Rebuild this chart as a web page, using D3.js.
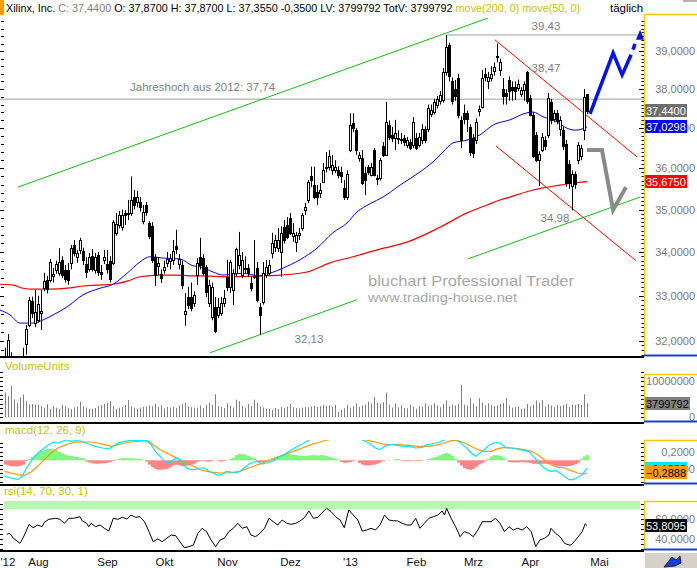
<!DOCTYPE html>
<html>
<head>
<meta charset="utf-8">
<script src="https://cdn.jsdelivr.net/npm/d3@7"></script>
<style>
  body { margin: 0; background: #fff; }
  svg { display: block; font-family: "Liberation Sans", Arial, sans-serif; }
</style>
</head>
<body>
<div id="chart"></div>
<script>
// ---------- daily candles (index 0 = mid July 2012, last = 26 Apr 2013) ----------
var openP = [31.55,31.62,31.6,31.45,31.35,31.4,31.5,31.93,32.35,32.88,
  32.4,32.46,32.62,33.17,33.36,33.36,33.44,33.59,33.52,33.82,
  33.59,33.59,33.75,34.16,33.88,34.05,34.02,33.72,33.61,33.9,
  33.59,33.93,33.55,33.82,33.72,33.8,33.75,34.45,34.63,34.58,
  34.92,34.9,34.92,35.3,35.18,35.18,34.73,35.11,34.68,34.6,
  33.88,33.68,33.5,33.59,33.75,33.79,33.82,34.14,33.72,33.7,
  32.6,32.97,32.97,32.84,33.47,33.88,33.86,33.66,32.84,32.53,
  32.75,32.57,32.62,32.84,33.43,33.2,33.13,33.52,33.7,33.47,
  33.61,33.63,33.29,33.43,33.63,32.75,32.86,33.47,33.52,33.98,
  34.12,34.1,34.0,34.58,34.63,34.8,34.38,34.24,34.4,34.56,
  34.99,35.23,35.8,35.59,35.42,35.4,35.66,36.02,36.04,35.96,
  35.96,35.96,35.9,35.52,35.3,36.45,37.13,36.95,36.26,36.26,
  35.88,36.04,35.84,36.45,35.75,35.76,36.55,36.33,37.08,36.83,
  36.76,36.76,36.7,36.76,36.58,36.65,36.58,36.75,36.58,36.7,
  36.98,36.98,37.36,37.41,37.6,37.7,37.72,38.45,39.15,38.2,
  38.0,38.3,37.2,37.38,37.38,37.03,36.75,36.7,37.43,37.55,
  38.4,38.2,38.3,38.47,38.85,38.5,38.0,37.9,38.24,38.05,
  38.06,38.03,37.88,37.97,38.45,37.78,37.33,36.83,36.21,36.45,
  36.7,36.83,37.67,37.23,37.38,36.97,36.95,36.6,36.1,35.57,
  35.86,36.21,36.3,36.95,37.87];
var highP = [31.85,32.15,31.75,31.6,31.55,31.62,31.85,32.35,32.97,32.98,
  33.13,33.0,33.13,33.52,33.45,33.84,33.63,33.8,34.09,33.9,
  33.7,33.75,34.16,34.28,34.05,34.33,34.1,33.88,33.98,34.07,
  33.98,34.0,33.7,34.05,34.05,33.9,34.75,34.92,34.97,35.0,
  34.99,35.23,35.8,35.47,35.45,35.3,35.11,35.18,34.72,34.7,
  33.95,33.88,33.6,33.8,34.0,33.95,34.28,34.52,33.95,33.8,
  33.06,33.2,33.3,33.1,33.86,34.33,33.95,33.7,33.36,33.3,
  32.97,32.95,32.97,33.13,33.82,33.82,33.6,34.1,34.47,34.0,
  33.9,33.72,33.43,34.28,33.77,32.84,33.77,33.82,33.82,34.45,
  34.4,34.56,34.6,34.75,34.82,34.92,34.68,34.47,34.56,34.92,
  35.16,35.71,36.04,36.04,35.59,35.64,36.13,36.4,36.45,36.33,
  36.2,36.05,36.04,35.71,35.95,37.38,37.38,37.0,36.4,36.45,
  36.04,36.08,36.13,36.5,35.84,36.26,36.65,37.67,37.2,37.03,
  37.21,36.95,36.88,36.83,36.78,36.72,37.28,36.88,36.88,37.1,
  37.05,37.6,37.6,37.75,37.82,37.95,38.55,39.43,39.22,38.3,
  38.24,38.4,37.3,37.6,37.45,37.1,36.85,37.25,37.58,38.5,
  38.55,38.45,38.6,38.7,39.2,38.8,38.29,38.0,38.33,38.2,
  38.2,38.25,38.05,38.2,38.47,37.85,37.4,36.9,36.42,36.88,
  36.8,37.9,37.75,37.46,37.46,37.3,37.03,36.7,36.2,35.95,
  35.92,36.65,36.58,38.0,37.87];
var lowP = [31.3,31.4,31.3,31.2,31.15,31.2,31.4,31.7,32.3,32.5,
  32.3,32.4,32.24,33.1,33.05,33.3,33.3,33.5,33.45,33.4,
  33.3,33.25,33.6,33.9,33.75,33.95,33.7,33.4,33.55,33.55,
  33.5,33.45,33.36,33.72,33.5,33.3,33.7,34.38,34.55,34.5,
  34.63,34.75,34.85,35.0,35.05,34.95,34.65,34.85,34.3,33.75,
  33.22,33.47,33.29,33.5,33.65,33.6,33.7,33.95,33.6,33.15,
  32.33,32.7,32.65,32.75,33.24,33.6,33.45,32.97,32.75,32.45,
  32.17,32.5,32.55,32.75,33.1,33.06,32.79,33.45,33.6,33.4,
  33.5,33.42,33.1,33.38,32.85,32.13,32.8,33.4,33.45,33.85,
  34.0,34.0,33.43,34.2,34.3,34.4,34.24,34.0,34.28,34.5,
  34.87,35.15,35.54,35.25,35.11,35.28,35.64,35.9,35.95,35.84,
  35.88,35.75,35.64,35.23,35.23,36.4,36.9,36.33,36.16,35.59,
  35.35,35.84,35.8,35.8,35.59,35.7,36.28,36.3,36.7,36.65,
  36.45,36.6,36.6,36.55,36.5,36.45,36.5,36.45,36.52,36.6,
  36.62,36.9,37.28,37.35,37.5,37.6,37.65,38.35,38.2,37.6,
  37.7,37.25,36.5,37.1,36.9,36.3,36.25,36.6,37.3,37.5,
  38.2,38.0,38.2,38.35,38.7,38.35,37.6,37.6,37.7,37.7,
  37.72,37.95,37.8,37.7,37.62,37.3,36.25,36.15,35.57,36.4,
  36.45,36.75,37.1,37.15,37.1,36.8,36.45,35.55,35.5,34.98,
  35.5,36.1,36.2,36.7,37.355];
var closeP = [31.62,32.02,31.45,31.35,31.4,31.5,31.6,32.26,32.91,32.62,
  32.64,32.82,32.66,33.34,33.15,33.77,33.5,33.72,33.77,33.47,
  33.38,33.36,34.09,33.98,33.98,34.28,33.82,33.55,33.88,33.61,
  33.88,33.55,33.5,33.88,33.6,33.38,34.7,34.65,34.87,34.87,
  34.87,34.92,35.23,35.11,35.3,35.06,34.95,34.95,34.38,33.82,
  33.47,33.75,33.4,33.66,33.84,33.86,34.02,34.07,33.84,33.24,
  32.66,32.79,32.72,33.02,33.75,33.7,33.52,33.08,33.24,33.2,
  32.22,32.75,32.84,32.95,33.2,33.77,33.52,34.07,33.93,33.82,
  33.64,33.52,33.17,33.45,32.91,32.57,33.52,33.66,33.7,34.2,
  34.28,34.28,34.45,34.28,34.36,34.45,34.45,34.4,34.45,34.87,
  35.06,35.66,35.71,35.3,35.3,35.47,35.96,36.04,36.3,36.08,
  36.04,35.84,35.8,35.3,35.86,37.08,37.0,36.45,36.33,35.64,
  35.71,35.91,36.04,35.84,35.77,36.21,36.33,37.15,36.78,36.76,
  36.88,36.72,36.72,36.65,36.7,36.5,37.15,36.5,36.78,36.98,
  36.7,37.51,37.46,37.67,37.75,37.85,38.45,39.1,38.33,37.7,
  37.82,37.33,36.7,37.23,37.23,36.4,36.38,37.15,37.48,38.3,
  38.32,38.32,38.4,38.57,38.88,38.7,37.82,37.82,37.95,37.98,
  37.95,38.12,37.98,38.12,37.68,37.33,36.3,36.21,36.35,36.78,
  36.55,37.77,37.21,37.38,37.18,37.21,36.55,35.64,35.64,35.86,
  35.62,36.58,36.5,37.79,37.44];

// volume in millions of shares
var volumeM = [6.8,5.8,8.7,4.9,3.9,5.4,6.3,4.4,3.5,3.6,
  3.5,3.4,3.0,2.6,3.5,2.2,3.0,2.6,2.3,3.4,
  3.0,2.5,2.2,2.7,2.9,4.2,3.0,2.6,2.2,2.3,
  2.5,3.0,3.3,3.6,4.0,4.4,3.0,2.2,2.6,2.8,
  3.4,4.7,2.9,2.6,2.3,2.6,2.8,2.9,3.2,3.0,
  3.6,2.8,3.3,2.4,2.8,2.6,2.8,2.5,3.2,3.6,
  4.0,2.9,2.7,2.6,2.6,3.2,2.5,3.4,4.0,3.4,
  6.3,3.0,2.8,2.5,3.8,3.2,2.6,4.8,4.4,3.0,
  2.6,3.6,3.0,4.8,4.0,2.9,2.6,2.4,2.2,2.0,
  2.5,2.2,2.8,2.5,2.9,3.6,2.7,2.5,2.4,2.6,
  2.8,2.7,2.9,3.1,2.8,3.0,3.4,3.1,3.2,2.8,
  3.4,1.4,2.0,2.4,3.3,2.6,3.0,3.8,2.8,3.2,
  3.4,4.3,3.8,5.6,3.9,3.6,4.1,6.8,3.5,2.6,
  3.8,2.7,3.2,2.5,2.4,3.4,2.9,2.3,3.0,2.9,
  3.8,3.1,3.3,3.8,3.2,2.7,3.6,4.6,3.0,3.4,
  3.2,3.6,8.9,3.4,3.2,5.2,3.8,3.0,5.2,4.0,
  3.2,3.8,3.3,3.0,3.2,3.6,3.9,5.2,3.3,2.6,
  2.8,2.9,2.2,2.4,3.6,3.0,3.4,4.6,4.0,4.7,
  2.9,3.6,3.2,2.7,3.3,3.0,3.3,3.6,2.8,3.4,
  3.3,3.6,3.4,6.3,3.799792];

// moving averages at candle indices
var ma50Idx = [-1.7,1.7,5,9.3,12.7,16,20.7,26,31.7,36,40.7,45,48.3,52.7,58.3,62.7,65,69.3,72.7,79.3,85,88.3,92.7,98.3,104,109.3,114,117.3,121.7,126,131.7,138.3,142.7,146,149.3,154,158.3,162.7,168.3,174,176,179.3,184,187.3,190,192,194];
var ma50Val = [32.68,32.57,32.39,32.39,32.46,32.57,32.75,33.02,33.17,33.26,33.51,33.77,33.89,33.86,33.84,33.68,33.66,33.54,33.47,33.51,33.45,33.51,33.63,33.82,34.09,34.45,34.68,34.94,35.14,35.30,35.59,35.91,36.16,36.40,36.63,36.70,36.83,37.08,37.21,37.39,37.41,37.29,37.16,37.0,36.95,36.97,37.03];
var ma200Idx = [-1.7,2.7,6,9.3,15,20.7,26,30.7,36,40.7,45,51.7,57.3,61.7,65,75,85,91.7,100.7,108.3,116,124,134,145,154,160.7,165,168.3,176,179.3,185,189.3,194];
var ma200Val = [33.26,33.24,33.17,33.15,33.15,33.17,33.22,33.24,33.26,33.33,33.43,33.47,33.47,33.45,33.45,33.43,33.45,33.47,33.54,33.75,33.89,34.05,34.23,34.58,34.92,35.11,35.23,35.30,35.47,35.52,35.59,35.64,35.675];

// macd(12,26,9): macd line (cyan), signal (orange), histogram per candle
var macdIdx = [-0.2,2,4.3,5.7,7.2,9.4,11.7,13.1,14.6,16.1,17.6,19.1,20.6,22,23.5,25.7,27.9,30.2,32.4,34.6,36.1,37.6,39.8,42,44.3,45.7,47.2,48.7,50.2,51.7,53.1,54.6,56.1,57.6,59.1,60.6,62,63.5,65,66.5,68,69.4,70.9,72.4,73.9,75.4,76.9,78.3,79.8,81.3,82.8,84.3,85.7,87.2,88.7,90.2,91.7,93.1,94.6,96.1,97.6,99.1,100.6,102,105,109,113,115.4,119,120.6,122,123.5,125,126.5,128,129.4,130.9,132.4,134.6,136.9,139.1,140.6,142,143.5,145,146.5,148.7,150.9,152.4,153.9,155.4,156.9,158.3,159.8,161.3,162.8,164.3,165.7,167.2,168.7,170.2,171.7,173.1,174.6,176.1,177.6,179.1,180.5,182,183.5,185,186.5,188,189.4,190.9,192.4,194];
var macdVal = [-0.373,-0.412,-0.45,-0.373,-0.179,0.053,0.209,0.286,0.364,0.426,0.402,0.441,0.48,0.441,0.457,0.441,0.379,0.325,0.286,0.27,0.325,0.402,0.441,0.465,0.457,0.465,0.457,0.364,0.209,0.092,-0.024,-0.063,0.015,0.053,-0.063,-0.179,-0.218,-0.218,-0.179,-0.179,-0.257,-0.295,-0.35,-0.319,-0.257,-0.272,-0.295,-0.257,-0.179,-0.086,-0.04,-0.024,-0.086,-0.063,-0.024,0.015,0.092,0.131,0.209,0.27,0.325,0.379,0.441,0.5,0.6,0.56,0.49,0.56,0.48,0.426,0.364,0.286,0.247,0.325,0.364,0.364,0.348,0.325,0.325,0.286,0.302,0.364,0.379,0.402,0.426,0.48,0.56,0.457,0.364,0.286,0.17,0.092,0.17,0.247,0.348,0.402,0.418,0.364,0.286,0.286,0.27,0.247,0.224,0.209,0.092,-0.024,-0.14,-0.218,-0.257,-0.241,-0.295,-0.373,-0.45,-0.45,-0.396,-0.334,-0.1888];
var signalIdx = [-0.2,2,4.3,6.5,8.7,10.9,13.1,15.4,17.6,19.8,22,24.3,26.5,28.7,30.9,33.1,35.4,37.6,39.8,42,44.3,46.5,48,49.4,51.7,53.9,56.1,58.3,60.6,62.8,65,67.2,69.4,71.7,73.9,76.1,78.3,81.3,84.3,87.2,90.2,93.1,96.1,99.1,102,105,107.9,112.4,116.9,121.3,123.5,125.7,128.7,131.7,134.6,137.6,140.6,143.5,146.5,148.7,150.9,153.1,155.4,157.6,159.8,162,164.3,166.5,168.7,170.9,173.1,175.4,177.6,179.8,182,184.3,186.5,188.7,190.9,193.1,194];
var signalVal = [-0.257,-0.295,-0.334,-0.35,-0.272,-0.14,0.015,0.17,0.286,0.348,0.402,0.426,0.426,0.426,0.402,0.364,0.325,0.364,0.402,0.426,0.441,0.457,0.441,0.364,0.247,0.17,0.092,0.015,-0.063,-0.14,-0.218,-0.257,-0.28,-0.295,-0.295,-0.28,-0.257,-0.179,-0.102,-0.024,0.053,0.131,0.209,0.286,0.364,0.426,0.48,0.53,0.53,0.457,0.426,0.379,0.364,0.364,0.348,0.325,0.325,0.348,0.402,0.457,0.457,0.402,0.325,0.247,0.209,0.209,0.27,0.302,0.286,0.27,0.247,0.209,0.131,0.015,-0.102,-0.163,-0.179,-0.241,-0.295,-0.319,-0.2888];
var histVal = [-0.10,-0.12,-0.14,-0.14,-0.14,-0.13,-0.10,-0.02,0.03,
  0.08,0.13,0.18,0.22,0.24,0.26,0.27,0.26,0.24,0.2,0.16,0.13,0.11,0.1,0.09,0.08,0.06,0.05,
  -0.03,-0.05,-0.07,-0.08,-0.08,-0.07,-0.07,-0.06,-0.04,-0.02,
  0.02,0.04,0.05,0.05,0.05,0.05,0.04,0.04,0.03,0.01,
  -0.03,-0.1,-0.16,-0.2,-0.22,-0.22,-0.21,-0.2,-0.16,-0.12,-0.1,-0.12,
  -0.14,-0.13,-0.12,-0.1,-0.08,-0.04,-0.02,
  -0.02,-0.03,-0.03,-0.02,0.0,-0.02,-0.03,-0.02,0.01,0.03,0.06,
  0.12,0.15,0.15,0.13,0.1,0.07,0.06,
  -0.02,-0.04,-0.04,-0.02,
  0.02,0.05,0.08,0.1,0.12,0.14,0.15,0.14,0.13,0.12,0.11,0.1,0.1,0.11,0.12,0.12,0.11,0.12,0.12,0.1,0.08,0.06,0.04,0.02,
  -0.04,-0.06,-0.05,-0.04,-0.02,0.0,
  -0.06,-0.1,-0.12,-0.12,-0.11,-0.1,-0.08,-0.05,-0.02,
  0.0,0.01,0.0,0.03,0.03,
  -0.01,-0.02,-0.02,-0.02,-0.01,-0.02,-0.02,-0.01,0.0,
  0.03,0.05,0.07,0.09,0.12,0.15,0.17,0.15,0.1,0.04,
  -0.05,-0.12,-0.18,-0.21,-0.22,-0.2,-0.15,-0.1,-0.06,-0.02,
  0.04,0.09,0.12,0.12,0.1,0.06,0.02,
  -0.04,-0.05,-0.05,-0.05,-0.04,-0.05,-0.05,-0.06,-0.08,
  -0.08,-0.09,-0.08,-0.08,-0.09,-0.1,
  -0.12,-0.13,-0.14,-0.14,-0.14,-0.13,-0.12,-0.09,-0.05,
  0.04,0.09,0.12];

// rsi(14)
var rsiIdx = [0.6,1.6,2.8,5,6.5,8,9.4,10.9,12.4,13.1,14.6,16.9,18.3,19.8,21.3,22.8,25,25.7,27.2,27.9,28.7,30.2,31.7,33.1,34.6,36.1,37.6,39.1,40.6,42,43.5,45,46.5,48,49.4,50.9,52.4,53.9,55.4,56.9,58.3,59.8,61.3,62.8,64.3,65.7,67.2,68.7,70.2,71.7,73.1,74.6,76.1,77.6,79.1,80.6,82,83.5,85,86.5,88,89.4,90.9,92.4,93.9,95.4,96.9,98.3,99.8,101.3,102.8,104.3,105.7,107.2,108.7,110.2,111.7,113.1,114.6,116.1,117.6,119.1,120.6,122,123.5,125,126.5,128,129.4,130.9,132.4,133.9,135.4,136.9,138.3,139.8,141.3,142.8,144.3,145.7,146.5,147.2,148.7,150.2,151.7,153.1,154.6,156.1,157.6,159.1,160.6,162,163.5,165,166.5,168,169.4,170.9,172.4,173.9,175.4,176.9,178.3,179.8,181.3,182,183.5,185,186.5,188,188.7,190.2,191.7,192.4,193.4,194];
var rsiVal = [45,46,41,36,44.3,55,51.6,54.3,52.6,57,60,61,60,56,61,61,62.6,58.6,56,52.6,56,52.6,54.3,51,48.3,61,60,62,60.3,64.3,62,62.6,57.6,47.6,37.6,40.3,37.6,41,44.3,43.6,37.6,31.6,32.6,34.3,46,51,47.6,39.3,32.6,39.3,41,47.6,51,56,51,52.6,44.3,42.6,46,51,61,57.6,54.3,59.3,56,55,56,58.3,61.6,68.3,61,62,66.6,71,67.6,62.6,59.3,51.6,69.3,64.3,59.3,48.3,49.3,51,49.3,54.3,64.3,59.3,58.6,58.3,56,54.3,54.3,61,51,56,61,62.6,64.3,68.3,64.3,71,61,52.6,42.6,47.6,46,42.6,49.3,57.6,57.6,57.6,61,56,47.6,52.6,49.3,51,49.3,52.6,47.6,32.6,39.3,41,44.3,51,46,42.6,36,34.3,34.3,39.3,45,47.6,55.6,53.81];

// axis labels
var monthIdx = [0.8, 11, 34, 53, 74, 95, 115, 137, 156, 175, 198];
var monthLabels = ["'12", "Aug", "Sep", "Okt", "Nov", "Dez", "'13", "Feb", "Mrz", "Apr", "Mai"];
var priceTicks = [32, 33, 34, 35, 36, 37, 38, 39];

// drawn analysis: trend channels, marks and projections ([candle index, price])
var greenUpper = [[4.3, 35.54], [161, 39.89]];
var greenLower1 = [[68.3, 31.74], [117.3, 32.91]];
var greenLower2 = [[154.3, 33.84], [211.7, 35.30]];
var redUpper = [[163.3, 39.30], [210.7, 36.28]];
var redLower = [[163.7, 36.55], [210.3, 33.80]];
var highLine = [[147.2, 39.43], [213, 39.43]];
var yearHighLine = [[-1.7, 37.74], [213, 37.74]];
var bullPath = [[195, 37.36], [202.7, 38.95], [205.7, 38.37], [208.7, 38.90]];
var bullDash = [[209.3, 39.04], [210.0, 39.19]];
var bullHead = [[210.3, 39.30], [211.7, 39.57], [213.0, 39.30]];
var bearPath = [[194, 36.45], [199, 36.45], [202.7, 34.99], [207, 35.54]];

// ---------- layout ----------
var width = 697, height = 568;
var axisX = 644;
var olive = "#c4c400", yellow = "#f6c700", axisBlue = "#1c3fc8";
var de = d3.formatLocale({decimal: ",", thousands: ".", grouping: [3], currency: ["", ""]});
var fmt4 = de.format(".4f");

var svg = d3.select("#chart").append("svg").attr("width", width).attr("height", height);
svg.append("rect").attr("width", width).attr("height", height).attr("fill", "#fff");

var xScale = d3.scaleLinear().domain([0, 194]).range([5, 587]);
var yPrice = d3.scaleLog().domain([31.67, 39.89]).range([356, 18]);
var yVol = d3.scaleLinear().domain([0, 1e7]).range([417, 381]);
var yMacd = d3.scaleLinear().domain([-0.2, 0.2]).range([468.9, 451.7]);
var yRsi = d3.scaleLinear().domain([40, 60]).range([539.3, 519.3]);

function px(i) { return Math.round(xScale(i)); }

var defs = svg.append("defs");
function addClip(id, y0, y1) {
  defs.append("clipPath").attr("id", id).append("rect")
    .attr("x", 0).attr("y", y0).attr("width", axisX).attr("height", y1 - y0);
}
addClip("cMain", 18, 356);
addClip("cVol", 374, 421);
addClip("cMacd", 440, 484);
addClip("cRsi", 501, 550);

// ---------- main price panel ----------
var gMain = svg.append("g").attr("clip-path", "url(#cMain)");

var candles = openP.map(function (o, i) {
  return {i: i, o: o, h: highP[i], l: lowP[i], c: closeP[i]};
});

var ptLine = d3.line()
  .x(function (d) { return xScale(d[0]); })
  .y(function (d) { return yPrice(d[1]); });

function drawPts(g, pts, color, w, dash) {
  g.append("path").datum(pts).attr("d", ptLine)
    .attr("fill", "none").attr("stroke", color).attr("stroke-width", w)
    .attr("stroke-dasharray", dash || null);
}

// horizontal marks
drawPts(gMain, yearHighLine, "#a0a0a0", 1);
drawPts(gMain, highLine, "#a0a0a0", 1);

// watermark
gMain.append("text").attr("x", 368).attr("y", 286).attr("font-size", 15)
  .attr("fill", "#a8a8a8").attr("textLength", 206).attr("lengthAdjust", "spacingAndGlyphs")
  .text("bluchart Professional Trader");
gMain.append("text").attr("x", 368).attr("y", 302).attr("font-size", 12.5)
  .attr("fill", "#a8a8a8").attr("textLength", 149).attr("lengthAdjust", "spacingAndGlyphs")
  .text("www.trading-house.net");

// channels
drawPts(gMain, greenUpper, "#10c010", 1);
drawPts(gMain, greenLower1, "#10c010", 1);
drawPts(gMain, greenLower2, "#10c010", 1);
drawPts(gMain, redUpper, "#ff0000", 1);
drawPts(gMain, redLower, "#ff0000", 1);

// moving averages
var maLine = d3.line().curve(d3.curveMonotoneX)
  .x(function (d) { return xScale(d[0]); })
  .y(function (d) { return yPrice(d[1]); });
gMain.append("path").datum(d3.zip(ma200Idx, ma200Val)).attr("d", maLine)
  .attr("fill", "none").attr("stroke", "#ff0000").attr("stroke-width", 1.2);
gMain.append("path").datum(d3.zip(ma50Idx, ma50Val)).attr("d", maLine)
  .attr("fill", "none").attr("stroke", "#0000ff").attr("stroke-width", 1);

// candles
gMain.selectAll("line.wick").data(candles).enter().append("line")
  .attr("class", "wick")
  .attr("x1", function (d) { return px(d.i) + 0.5; })
  .attr("x2", function (d) { return px(d.i) + 0.5; })
  .attr("y1", function (d) { return yPrice(d.h); })
  .attr("y2", function (d) { return yPrice(d.l); })
  .attr("stroke", "#000").attr("stroke-width", 1);

gMain.selectAll("rect.body").data(candles).enter().append("rect")
  .attr("class", "body")
  .attr("x", function (d) { return px(d.i) - 0.5; })
  .attr("width", 2)
  .attr("y", function (d) { return Math.round(yPrice(Math.max(d.o, d.c))) + 0.5; })
  .attr("height", function (d) {
    return Math.max(1, Math.round(yPrice(Math.min(d.o, d.c))) - Math.round(yPrice(Math.max(d.o, d.c))));
  })
  .attr("fill", function (d) { return d.c < d.o ? "#000" : "#fff"; })
  .attr("stroke", "#000").attr("stroke-width", 1);

// projections
drawPts(gMain, bearPath, "#8a8a8a", 4);
drawPts(gMain, bullPath, "#0010ff", 3.5);
drawPts(gMain, bullDash, "#0010ff", 3.5);
gMain.append("path").datum(bullHead).attr("d", function (d) { return ptLine(d) + "Z"; })
  .attr("fill", "#0010ff");

// value labels on the chart
var annot = svg.append("g").attr("font-size", 11.5).attr("fill", "#808080");
annot.append("text").attr("x", 130).attr("y", 90.5).text("Jahreshoch aus 2012: 37,74");
annot.append("text").attr("x", 546).attr("y", 30).attr("text-anchor", "middle").text("39,43");
annot.append("text").attr("x", 546).attr("y", 71.5).attr("text-anchor", "middle").text("38,47");
annot.append("text").attr("x", 555).attr("y", 221.5).attr("text-anchor", "middle").text("34,98");
annot.append("text").attr("x", 309).attr("y", 343).attr("text-anchor", "middle").text("32,13");

// ---------- header ----------
var head = svg.append("text").attr("x", 6).attr("y", 11.5).attr("font-size", 11)
  .attr("fill", "#000").attr("textLength", 574).attr("lengthAdjust", "spacingAndGlyphs");
head.append("tspan").text("Xilinx, Inc. ");
head.append("tspan").attr("fill", "#808080").text("C: 37,4400 ");
head.append("tspan").text("O: 37,8700 H: 37,8700 L: 37,3550 -0,3500 LV: 3799792 TotV: 3799792 ");
head.append("tspan").attr("fill", olive).text("move(200, 0) move(50, 0)");
svg.append("text").attr("x", 610).attr("y", 11.5).attr("font-size", 11.5).text("täglich");
svg.append("rect").attr("x", 0).attr("y", 0).attr("width", 4).attr("height", 15).attr("fill", "#ff9a00");
svg.append("rect").attr("x", 683).attr("y", 0).attr("width", 14).attr("height", 2).attr("fill", "#b8b4ac");

// ---------- price axis ----------
function tickColumn(scale, values, major, x0, len, lenMajor) {
  svg.append("g").selectAll("line").data(values).enter().append("line")
    .attr("x1", function (d) { return major(d) ? x0 - lenMajor : x0 - len; })
    .attr("x2", x0)
    .attr("y1", function (d) { return Math.round(scale(d)) + 0.5; })
    .attr("y2", function (d) { return Math.round(scale(d)) + 0.5; })
    .attr("stroke", "#000").attr("stroke-width", 1);
}
function isInt(d) { return Math.abs(d - Math.round(d)) < 1e-6; }

tickColumn(yPrice, d3.range(31.8, 39.85, 0.2), isInt, 4, 3, 5);
tickColumn(yPrice, d3.range(31.7, 39.85, 0.1), isInt, axisX, 2.5, 5);

svg.append("g").attr("font-size", 11).attr("fill", "#7a7a7a").attr("text-anchor", "end")
  .selectAll("text").data(priceTicks).enter().append("text")
  .attr("x", 695).attr("y", function (d) { return yPrice(d); }).attr("dy", "0.36em")
  .text(function (d) { return fmt4(d); });

function valueBox(y, txt, fill, color, w) {
  svg.append("rect").attr("x", 645).attr("y", Math.round(y - 6.5)).attr("width", w || 42).attr("height", 13).attr("fill", fill);
  svg.append("text").attr("x", 646).attr("y", Math.round(y - 6.5) + 10.5).attr("font-size", 11).attr("fill", color).text(txt);
}
valueBox(yPrice(closeP[closeP.length - 1]), fmt4(closeP[closeP.length - 1]), "#6e6e6e", "#fff");
valueBox(yPrice(37.0298), fmt4(37.0298), "#0000ff", "#fff");
valueBox(yPrice(ma200Val[ma200Val.length - 1]), fmt4(ma200Val[ma200Val.length - 1]), "#ff0000", "#fff");

// ---------- volume panel ----------
var gVol = svg.append("g").attr("clip-path", "url(#cVol)");
gVol.selectAll("line").data(volumeM).enter().append("line")
  .attr("x1", function (d, i) { return px(i) + 0.5; })
  .attr("x2", function (d, i) { return px(i) + 0.5; })
  .attr("y1", yVol(0))
  .attr("y2", function (d) { return yVol(d * 1e6); })
  .attr("stroke", "#808080").attr("stroke-width", 1);
svg.append("text").attr("x", 5).attr("y", 370).attr("font-size", 11.5).attr("fill", olive).text("VolumeUnits");
var volTicks = d3.range(0, 1.3e7, 1.25e6);
tickColumn(yVol, volTicks, function () { return false; }, 3, 3, 3);
tickColumn(yVol, volTicks, function () { return false; }, axisX, 3, 3);
svg.append("g").attr("font-size", 11).attr("fill", "#7a7a7a").attr("text-anchor", "end")
  .selectAll("text").data([0, 1e7]).enter().append("text")
  .attr("x", 695).attr("y", function (d) { return yVol(d); }).attr("dy", "0.36em")
  .text(function (d) { return d3.format("d")(d); });
valueBox(yVol(volumeM[volumeM.length - 1] * 1e6), "3799792", "#808080", "#000", 45);

// ---------- macd panel ----------
var gMacd = svg.append("g").attr("clip-path", "url(#cMacd)");
gMacd.selectAll("rect").data(histVal).enter().append("rect")
  .attr("x", function (d, i) { return px(i) - 1; })
  .attr("width", 3)
  .attr("y", function (d) { return Math.min(yMacd(0), yMacd(d)); })
  .attr("height", function (d) { return Math.abs(yMacd(d) - yMacd(0)); })
  .attr("fill", function (d) { return d >= 0 ? "#80f880" : "#ff8484"; });
var mLine = d3.line()
  .x(function (d) { return xScale(d[0]); })
  .y(function (d) { return yMacd(d[1]); });
gMacd.append("path").datum(d3.zip(signalIdx, signalVal)).attr("d", mLine)
  .attr("fill", "none").attr("stroke", "#ff9900").attr("stroke-width", 1.2);
gMacd.append("path").datum(d3.zip(macdIdx, macdVal)).attr("d", mLine)
  .attr("fill", "none").attr("stroke", "#00e8ff").attr("stroke-width", 1.2);
svg.append("text").attr("x", 5).attr("y", 434).attr("font-size", 11.5).attr("fill", olive).text("macd(12, 26, 9)");
var macdTicks = d3.range(-0.5, 0.55, 0.1).filter(function (d) { return yMacd(d) > 440 && yMacd(d) < 484; });
tickColumn(yMacd, macdTicks, function () { return false; }, 3, 3, 3);
tickColumn(yMacd, macdTicks, function () { return false; }, axisX, 3, 3);
svg.append("g").attr("font-size", 11).attr("fill", "#7a7a7a").attr("text-anchor", "end")
  .selectAll("text").data([0.2, -0.2]).enter().append("text")
  .attr("x", 695).attr("y", function (d) { return yMacd(d); }).attr("dy", "0.36em")
  .text(function (d) { return fmt4(d); });
valueBox(yMacd(macdVal[macdVal.length - 1]), fmt4(macdVal[macdVal.length - 1]), "#00e8ff", "#000");
valueBox(yMacd(signalVal[signalVal.length - 1]), fmt4(signalVal[signalVal.length - 1]), "#ff9900", "#000");

// ---------- rsi panel ----------
var gRsi = svg.append("g").attr("clip-path", "url(#cRsi)");
gRsi.append("rect").attr("x", 4).attr("width", 636)
  .attr("y", yRsi(100)).attr("height", yRsi(70) - yRsi(100)).attr("fill", "#b4f8b4");
var rLine = d3.line()
  .x(function (d) { return xScale(d[0]); })
  .y(function (d) { return yRsi(d[1]); });
gRsi.append("path").datum(d3.zip(rsiIdx, rsiVal)).attr("d", rLine)
  .attr("fill", "none").attr("stroke", "#000").attr("stroke-width", 1);
svg.append("text").attr("x", 4).attr("y", 495).attr("font-size", 11.5).attr("fill", olive).text("rsi(14, 70, 30, 1)");
var rsiTicks = d3.range(30, 80, 5);
tickColumn(yRsi, rsiTicks, function () { return false; }, 3, 3, 3);
tickColumn(yRsi, rsiTicks, function () { return false; }, axisX, 3, 3);
svg.append("g").attr("font-size", 11).attr("fill", "#7a7a7a").attr("text-anchor", "end")
  .selectAll("text").data([60, 40]).enter().append("text")
  .attr("x", 695).attr("y", function (d) { return yRsi(d); }).attr("dy", "0.36em")
  .text(function (d) { return fmt4(d); });
valueBox(yRsi(rsiVal[rsiVal.length - 1]), fmt4(53.8095), "#000", "#fff");

// ---------- frames ----------
function hline(y, x0, x1, color, w) {
  svg.append("line").attr("x1", x0).attr("x2", x1).attr("y1", y).attr("y2", y)
    .attr("stroke", color).attr("stroke-width", w);
}
function vline(x, y0, y1, color, w) {
  svg.append("line").attr("x1", x).attr("x2", x).attr("y1", y0).attr("y2", y1)
    .attr("stroke", color).attr("stroke-width", w);
}
// axis boxes: yellow top and left, blue bottom
[[14.5, 356], [374.5, 422], [440.5, 484], [501.5, 550]].forEach(function (p) {
  hline(p[0], axisX, width, yellow, 1.5);
  vline(axisX + 0.5, p[0], p[1], yellow, 1.5);
  hline(p[1] - 0.5, axisX, width, axisBlue, 2);
});
// panel separators
[357, 423, 485, 551].forEach(function (y) { hline(y, 0, axisX, "#000", 2); });

// ---------- date axis ----------
var xAxis = d3.axisBottom(xScale).tickValues(monthIdx)
  .tickFormat(function (d, i) { return monthLabels[i]; })
  .tickSize(0).tickPadding(6.3);
var gx = svg.append("g").attr("transform", "translate(0,552)").call(xAxis);
gx.select(".domain").remove();
gx.selectAll("text").attr("font-size", 11.5).attr("fill", "#111")
  .attr("font-family", "'Liberation Sans', Arial, sans-serif");

// corner button
svg.append("rect").attr("x", 645).attr("y", 553).attr("width", 52).attr("height", 15).attr("fill", "#d6d2ca");
svg.append("path").attr("d", "M664,567 L672,557 L676,560 L680,556 L681,563 L675,566 Z")
  .attr("fill", "#1040e0").attr("stroke", "#000").attr("stroke-width", 0.8);
</script>
</body>
</html>
